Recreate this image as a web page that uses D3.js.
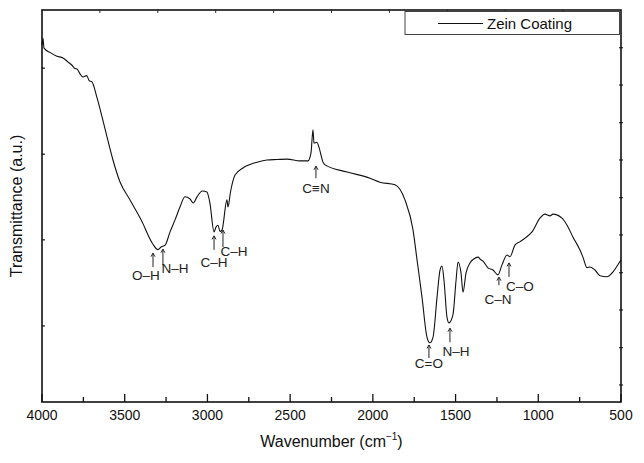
<!DOCTYPE html>
<html><head><meta charset="utf-8">
<script src="https://cdn.jsdelivr.net/npm/d3@7"></script>
<style>body{margin:0;background:#fff}svg{display:block;font-family:"Liberation Sans",Arial,sans-serif}</style>
</head><body><svg id="c" width="644" height="463"></svg>
<script>
// ---- data ----
const wavenumber = [4000,3994,3988,3950,3910,3873,3840,3820,3800,3788,3770,3752,3730,3715,3698,3668,3637,3607,3571,3529,3468,3450,3389,3365,3329,3299,3280,3256,3226,3196,3166,3136,3105,3085,3063,3030,3003,2985,2960,2948,2936,2924,2912,2882,2876,2860,2833,2785,2700,2640,2580,2519,2440,2392,2374,2362,2356,2338,2326,2301,2289,2156,2017,1957,1866,1806,1757,1733,1703,1673,1655,1636,1612,1594,1582,1570,1552,1540,1516,1497,1485,1467,1455,1437,1413,1390,1364,1350,1334,1304,1274,1244,1220,1189,1171,1141,1110,1080,1038,990,960,929,911,857,826,790,748,730,705,687,657,627,585,548,512,500];
const transmittance = [84.5,86.0,83.8,82.8,82.0,81.6,80.6,80.0,79.2,79.1,78.0,77.3,77.6,76.5,76.2,72.7,68.3,63.8,58.6,53.7,49.6,48.4,44.2,42.2,39.6,38.4,39.0,39.4,42.4,45.1,48.0,50.3,49.8,48.9,50.3,51.6,51.4,48.9,42.4,43.5,43.9,42.5,42.8,49.6,48.0,51.5,55.2,56.8,58.1,58.6,58.7,58.8,58.4,58.4,60.2,65.4,62.4,62.6,61.5,58.1,57.5,55.9,54.5,53.6,53.0,49.6,42.8,36.1,27.7,18.7,17.4,18.7,27.7,33.8,34.7,31.5,23.2,21.9,23.7,31.5,35.6,33.1,28.8,33.1,35.4,36.3,36.7,36.2,35.8,34.3,33.8,32.7,34.9,37.2,36.8,39.4,40.2,41.0,42.4,45.5,46.4,46.0,46.4,45.5,43.9,41.2,38.3,36.7,34.3,34.5,33.8,32.5,32.3,33.4,35.4,36.1];
const xTickLabels = [4000,3500,3000,2500,2000,1500,1000,500];
const xMinorTicks = [3750,3250,2750,2250,1750,1250,750];
const topTicks = [3650,3300,2950,2600,2250,1900,1550,1200,850];
const leftTicks = [21.2,40.6,59.9,79.3];
const rightTicks = [83.9,75.5,67.0,58.6,50.1,41.7,33.2,24.8,16.3,7.9];
const bandLabels = ["O–H","N–H","C–H","C–H","C≡N","C=O","N–H","C–N","C–O"];
const bandWavenumber = [3329,3269,2960,2906,2344,1661,1534,1238,1177];
const bandTip = [37.6,38.5,41.5,42.8,57.2,16.9,20.7,32.2,35.4];
const seriesName = "Zein Coating";

// ---- layout ----
const svg = d3.select("#c");
const L = 42, R = 621, T = 10, B = 402;
const x = d3.scaleLinear().domain([4000,500]).range([L,R]);
const y = d3.scaleLinear().domain([4.06,92.4]).range([B,T]);

// curve
const pts = wavenumber.map((w,i)=>[w,transmittance[i]]);
svg.append("path").datum(pts)
  .attr("fill","none").attr("stroke","#111").attr("stroke-width",1.1)
  .attr("d", d3.line().x(d=>x(d[0])).y(d=>y(d[1])).curve(d3.curveMonotoneX));

// bottom axis (ticks inward)
const ax = svg.append("g");
ax.selectAll("line.maj").data(xTickLabels).join("line")
  .attr("x1",d=>x(d)).attr("x2",d=>x(d)).attr("y1",B).attr("y2",B-8).attr("stroke","#111").attr("stroke-width",1.3);
ax.selectAll("line.min").data(xMinorTicks).join("line").attr("class","min")
  .attr("x1",d=>x(d)).attr("x2",d=>x(d)).attr("y1",B).attr("y2",B-5).attr("stroke","#111").attr("stroke-width",1.3);
ax.selectAll("text").data(xTickLabels).join("text")
  .attr("x",d=>x(d)).attr("y",B+18).attr("text-anchor","middle")
  .attr("font-size",14).attr("fill","#111").text(d=>d);

// top ticks
svg.append("g").selectAll("line").data(topTicks).join("line")
  .attr("x1",d=>x(d)).attr("x2",d=>x(d)).attr("y1",T).attr("y2",T+3).attr("stroke","#333").attr("stroke-width",1);
// left ticks
svg.append("g").selectAll("line").data(leftTicks).join("line")
  .attr("x1",L).attr("x2",L+3).attr("y1",d=>y(d)).attr("y2",d=>y(d)).attr("stroke","#111").attr("stroke-width",1.2);
// right ticks
svg.append("g").selectAll("line").data(rightTicks).join("line")
  .attr("x1",R-2).attr("x2",R+2).attr("y1",d=>y(d)).attr("y2",d=>y(d)).attr("stroke","#333").attr("stroke-width",1.2);

// frame
svg.append("rect").attr("x",L).attr("y",T).attr("width",R-L).attr("height",B-T)
  .attr("fill","none").attr("stroke","#111").attr("stroke-width",1.6);

// axis titles
const xt = svg.append("text").attr("x",(L+R)/2).attr("y",447).attr("text-anchor","middle")
  .attr("font-size",16).attr("fill","#111");
xt.append("tspan").text("Wavenumber (cm");
xt.append("tspan").attr("font-size",10).attr("dy",-7).text("−1");
xt.append("tspan").attr("dy",7).text(")");
svg.append("text").attr("transform",`translate(22,${(T+B)/2}) rotate(-90)`)
  .attr("text-anchor","middle").attr("font-size",16).attr("fill","#111").text("Transmittance (a.u.)");

// legend
const lg = svg.append("g");
lg.append("rect").attr("x",405).attr("y",T+1.5).attr("width",R-405-1.5).attr("height",23)
  .attr("fill","#fff").attr("stroke","#444").attr("stroke-width",1);
lg.append("line").attr("x1",438).attr("x2",483).attr("y1",23.5).attr("y2",23.5).attr("stroke","#111").attr("stroke-width",1.1);
lg.append("text").attr("x",487).attr("y",29).attr("font-size",15).attr("fill","#111").text(seriesName);

// band annotations
const arrowLen = [14,16,14,17,12,13,14,8,14];
const labDx = [-7,12,0,11,0,0,6,-1,11];
const labDy = [27,24,31,26,27,23,28,27,28];
const ann = svg.append("g");
bandLabels.forEach((lab,i)=>{
  const ax0 = x(bandWavenumber[i]), ay = y(bandTip[i]);
  ann.append("line").attr("x1",ax0).attr("x2",ax0).attr("y1",ay).attr("y2",ay+arrowLen[i]).attr("stroke","#222").attr("stroke-width",1);
  ann.append("path").attr("d",`M${ax0-2},${ay+3.5}L${ax0},${ay}L${ax0+2},${ay+3.5}`).attr("fill","none").attr("stroke","#222").attr("stroke-width",1);
  ann.append("text").attr("x",ax0+labDx[i]).attr("y",ay+labDy[i]).attr("text-anchor","middle")
    .attr("font-size",13.5).attr("fill","#222").text(lab);
});
</script></body></html>
